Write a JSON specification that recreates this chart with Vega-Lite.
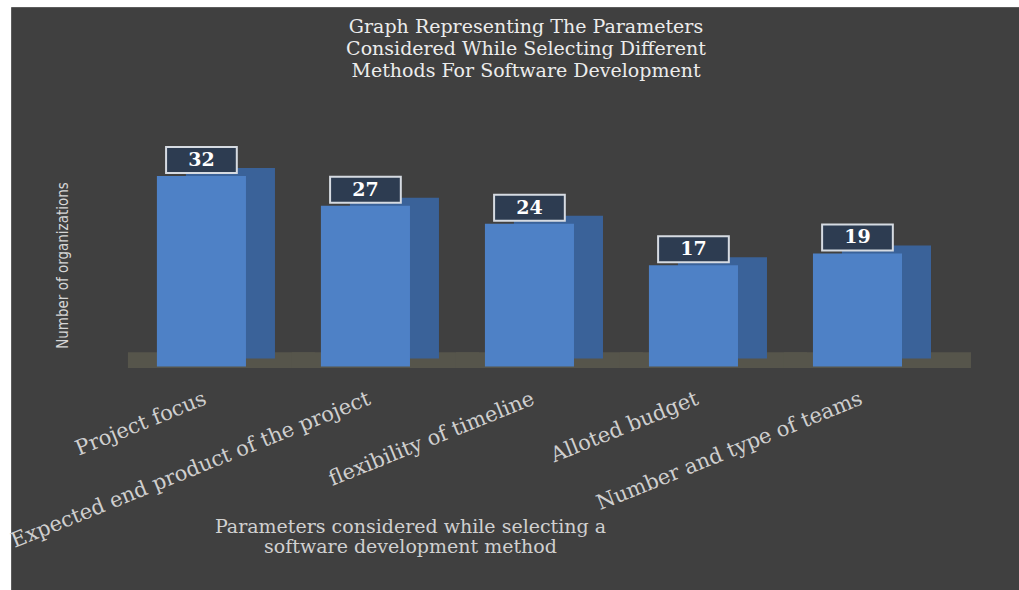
{
  "$schema": "https://vega.github.io/schema/vega-lite/v6.json",
  "autosize": "none",
  "width": 1008,
  "height": 583,
  "padding": {"left": 11, "top": 7, "right": 0, "bottom": 0},
  "background": "#ffffff",
  "config": {
    "view": {"fill": "#404040", "stroke": "#5c5c5c", "strokeWidth": 1}
  },
  "title": {
    "text": ["Graph Representing The Parameters", "Considered While Selecting Different", "Methods For Software Development"],
    "font": "DejaVu Serif",
    "fontSize": 19,
    "fontWeight": "normal",
    "color": "#ececec",
    "lineHeight": 22,
    "anchor": "middle",
    "frame": "group",
    "baseline": "top",
    "offset": -74,
    "dx": 11
  },
  "data": {
    "values": [
      {"parameter": "Project focus", "count": 32},
      {"parameter": "Expected end product of the project", "count": 27},
      {"parameter": "flexibility of timeline", "count": 24},
      {"parameter": "Alloted budget", "count": 17},
      {"parameter": "Number and type of teams", "count": 19}
    ]
  },
  "encoding": {
    "x": {
      "field": "parameter",
      "type": "nominal",
      "sort": null,
      "scale": {"paddingInner": 0.457, "paddingOuter": 0.8015, "align": 0.555},
      "axis": {
        "orient": "bottom",
        "offset": -223.5,
        "domain": false,
        "ticks": false,
        "grid": false,
        "labelAngle": -22,
        "labelAlign": "right",
        "labelBaseline": "top",
        "labelPadding": 21,
        "labelFont": "DejaVu Serif",
        "labelFontSize": 21,
        "labelColor": "#cfcfcf",
        "labelLimit": 1000,
        "labelOverlap": false,
        "title": ["Parameters considered while selecting  a", "software development method"],
        "titleFont": "DejaVu Serif",
        "titleFontSize": 19,
        "titleFontWeight": "normal",
        "titleColor": "#d0d0d0",
        "titleLineHeight": 20,
        "titleAlign": "center",
        "titleBaseline": "alphabetic",
        "titleX": 399,
        "titleY": 166
      }
    }
  },
  "layer": [
    {
      "mark": {"type": "bar", "color": "#56554b", "width": {"band": 2.1}, "xOffset": 20},
      "encoding": {
        "y": {"datum": 2.4, "type": "quantitative"},
        "y2": {"datum": -0.25}
      }
    },
    {
      "mark": {"type": "bar", "color": "#3a6299", "xOffset": 29, "yOffset": -8, "y2Offset": -8},
      "encoding": {
        "y": {"field": "count", "type": "quantitative"},
        "y2": {"datum": 0}
      }
    },
    {
      "mark": {"type": "bar", "color": "#4e81c6"},
      "encoding": {
        "y": {
          "field": "count",
          "type": "quantitative",
          "scale": {"domain": [-37.56, 60.42], "nice": false, "zero": false},
          "axis": {
            "domain": false,
            "labels": false,
            "ticks": false,
            "grid": false,
            "title": "Number of organizations",
            "titleFont": "Liberation Sans Narrow, DejaVu Sans Condensed, sans-serif",
            "titleFontSize": 15,
            "titleFontWeight": "normal",
            "titleColor": "#d6d6d6",
            "titleAngle": 270,
            "titleAlign": "center",
            "titleBaseline": "middle",
            "titleX": 51,
            "titleY": 258
          }
        },
        "y2": {"datum": 0}
      }
    },
    {
      "mark": {
        "type": "point",
        "shape": "M-1.36,-0.5H1.36V0.5H-1.36Z",
        "size": 2704,
        "filled": true,
        "fill": "#2d3c51",
        "stroke": "#d6dbe2",
        "strokeWidth": 2,
        "opacity": 1,
        "yOffset": -16
      },
      "encoding": {
        "y": {"field": "count", "type": "quantitative"}
      }
    },
    {
      "mark": {
        "type": "text",
        "font": "DejaVu Serif",
        "fontSize": 19,
        "fontWeight": "bold",
        "color": "#ffffff",
        "baseline": "middle",
        "align": "center",
        "yOffset": -16
      },
      "encoding": {
        "y": {"field": "count", "type": "quantitative"},
        "text": {"field": "count", "type": "quantitative"}
      }
    }
  ]
}
